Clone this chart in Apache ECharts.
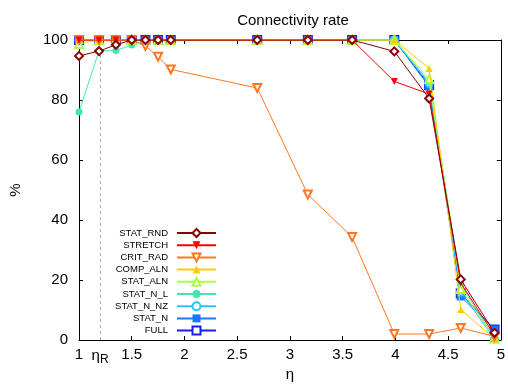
<!DOCTYPE html>
<html>
<head>
<meta charset="utf-8">
<script src="https://cdn.jsdelivr.net/npm/echarts@6/dist/echarts.min.js"></script>
<style>html,body{margin:0;padding:0;background:#fff}#c{width:508px;height:390px}</style>
</head>
<body>
<div id="c"></div>
<script>
const etaValues = [1.0, 1.19, 1.35, 1.5, 1.63, 1.75, 1.87, 2.69, 3.17, 3.59, 3.99, 4.32, 4.62, 4.94];
const etaR = 1.2;
const seriesNames = ['STAT_RND', 'STRETCH', 'CRIT_RAD', 'COMP_ALN', 'STAT_ALN', 'STAT_N_L', 'STAT_N_NZ', 'STAT_N', 'FULL'];
const statRnd  = [94.7, 96.3, 98.4, 100, 100, 100, 100, 100, 100, 100, 96.2, 80.5, 20.2, 2.4];
const stretch  = [100, 100, 100, 100, 100, 100, 100, 100, 100, 100, 86.2, 82, 19, 1.5];
const critRad  = [100, 100, 100, 100, 98, 94.4, 90.2, 84, 48.5, 34.3, 2, 2, 4, 1.2];
const compAln  = [100, 100, 100, 100, 100, 100, 100, 100, 100, 100, 100, 90.5, 10.2, 0.3];
const statAln  = [98.7, 100, 100, 100, 100, 100, 100, 100, 100, 100, 100, 87, 17, 0.5];
const statNL   = [76, 96.4, 96.5, 98.3, 100, 100, 100, 100, 100, 100, 100, 86, 18.5, 0.5];
const statNNZ  = [100, 100, 100, 100, 100, 100, 100, 100, 100, 100, 100, 85.5, 16, 0.3];
const statN    = [100, 100, 100, 100, 100, 100, 100, 100, 100, 100, 100, 84.5, 14.5, 3.5];
const full     = [100, 100, 100, 100, 100, 100, 100, 100, 100, 100, 100, 85, 15.5, 3.5];
const xTicks = [1, 1.5, 2, 2.5, 3, 3.5, 4, 4.5, 5];
const yTicks = [0, 20, 40, 60, 80, 100];

const allValues = [statRnd, stretch, critRad, compAln, statAln, statNL, statNNZ, statN, full];
const colors = ['#8b0000', '#ff0000', '#ff7722', '#ffcc00', '#aaff44', '#40e8b0', '#20c8ff', '#1e78ff', '#1a1aff'];
const symbols = ['emptyDiamond', 'triangle', 'emptyTriangle', 'triangle', 'emptyTriangle', 'circle', 'emptyCircle', 'rect', 'emptyRect'];
const rotations = [0, 180, 180, 0, 0, 0, 0, 0, 0];
const sizes = [8, 7, 8, 7, 8, 7, 7, 8, 8];

const font = 'Liberation Sans, Arial, Helvetica, sans-serif';

const series = seriesNames.map((name, i) => {
  const empty = symbols[i].indexOf('empty') === 0;
  const s = {
    name: name,
    type: 'line',
    z: 20 - i,
    data: etaValues.map((x, k) => [x, allValues[i][k]]),
    symbol: symbols[i],
    symbolRotate: rotations[i],
    symbolSize: sizes[i],
    showAllSymbol: true,
    animation: false,
    lineStyle: { color: colors[i], width: 1 },
    itemStyle: empty ? { color: colors[i], borderColor: colors[i], borderWidth: 1.1 } : { color: colors[i], borderWidth: 0 }
  };
  if (i === seriesNames.length - 1) {
    s.markLine = {
      silent: true,
      symbol: 'none',
      z: 1,
      animation: false,
      lineStyle: { color: '#aaaaaa', type: [3, 3], width: 1 },
      label: {
        show: true, position: 'start', distance: 5, color: '#000',
        formatter: '{a|η}{b|R}',
        rich: { a: { fontSize: 15, fontFamily: font, color: '#000' }, b: { fontSize: 12, fontFamily: font, color: '#000', padding: [9, 0, 0, 0] } }
      },
      data: [{ xAxis: etaR }]
    };
  }
  return s;
});

const chart = echarts.init(document.getElementById('c'), null, { renderer: 'canvas' });
const baseX = { type: 'value', min: xTicks[0], max: xTicks[xTicks.length - 1], interval: 0.5, splitLine: { show: false } };
const baseY = { type: 'value', min: yTicks[0], max: yTicks[yTicks.length - 1], interval: 20, splitLine: { show: false } };
chart.setOption({
  animation: false,
  backgroundColor: '#fff',
  title: {
    text: 'Connectivity rate', left: 288, top: 8, textAlign: 'center',
    textStyle: { fontFamily: font, fontSize: 15, fontWeight: 'normal', color: '#000' }
  },
  grid: { left: 78, right: 7, top: 40, bottom: 50 },
  xAxis: [
    Object.assign({}, baseX, {
      position: 'bottom', name: 'η', nameLocation: 'middle', nameGap: 25,
      nameTextStyle: { fontFamily: font, fontSize: 15, color: '#000' },
      axisLine: { show: true, lineStyle: { color: '#000', width: 1 } },
      axisTick: { show: true, inside: true, length: 4, lineStyle: { color: '#000' } },
      axisLabel: { fontFamily: font, fontSize: 15, color: '#000', margin: 7 }
    }),
    Object.assign({}, baseX, {
      position: 'top',
      axisLine: { show: true, onZero: false, lineStyle: { color: '#000', width: 1 } },
      axisTick: { show: true, inside: true, length: 4, lineStyle: { color: '#000' } },
      axisLabel: { show: false }
    })
  ],
  yAxis: [
    Object.assign({}, baseY, {
      position: 'left', name: '%', nameLocation: 'middle', nameGap: 56, nameRotate: 90,
      nameTextStyle: { fontFamily: font, fontSize: 15, color: '#000' },
      axisLine: { show: true, lineStyle: { color: '#000', width: 1 } },
      axisTick: { show: true, inside: true, length: 4, lineStyle: { color: '#000' } },
      axisLabel: { fontFamily: font, fontSize: 15, color: '#000', margin: 11 }
    }),
    Object.assign({}, baseY, {
      position: 'right',
      axisLine: { show: true, onZero: false, lineStyle: { color: '#000', width: 1 } },
      axisTick: { show: true, inside: true, length: 4, lineStyle: { color: '#000' } },
      axisLabel: { show: false }
    })
  ],
  legend: {
    data: seriesNames,
    orient: 'vertical',
    align: 'right',
    right: 291,
    top: 228,
    padding: 0,
    itemWidth: 39,
    itemHeight: 10,
    itemGap: 2.2,
    selectedMode: false,
    textStyle: { fontFamily: font, fontSize: 9.5, color: '#000', lineHeight: 10, padding: [0, 4, 0, 0] }
  },
  series: series
});
</script>
</body>
</html>
